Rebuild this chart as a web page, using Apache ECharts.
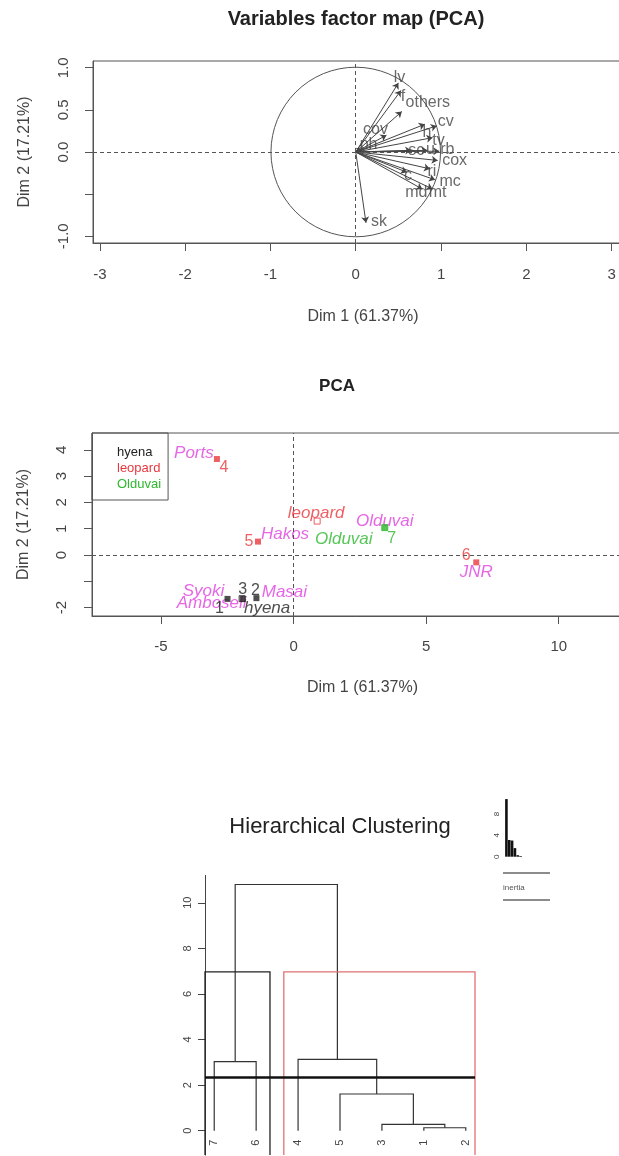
<!DOCTYPE html>
<html>
<head>
<meta charset="utf-8">
<script src="https://cdn.jsdelivr.net/npm/echarts@6/dist/echarts.min.js"></script>
<style>
html,body{margin:0;padding:0;background:#fff}
#main{width:619px;height:1156px}
</style>
</head>
<body>
<div id="main"></div>
<script>
// variables factor map
var varNames = ['lv','f','others','cv','cov','h','tv','ph','sc','u','rb','cox','ri','c','mc','md','mt','sk'];
var varDim1 = [0.50,0.53,0.54,0.95,0.36,0.81,0.90,0.08,0.65,0.84,0.98,0.96,0.87,0.60,0.93,0.78,0.90,0.12];
var varDim2 = [0.82,0.73,0.48,0.31,0.20,0.33,0.17,0.04,0.02,0.02,0.01,-0.10,-0.20,-0.24,-0.33,-0.44,-0.44,-0.84];
var circleRadius = 1;

// individuals
var indNames = ['1','2','3','4','5','6','7'];
var indDim1 = [-2.49,-1.40,-1.92,-2.89,-1.34,6.89,3.44];
var indDim2 = [-1.67,-1.64,-1.67,3.65,0.51,-0.28,1.04];
var indGroup = ['hyena','hyena','hyena','leopard','leopard','leopard','Olduvai'];
var indSite = ['Syoki','Masai','Amboseli','Ports','Hakos','JNR','Olduvai'];
var groupNames = ['hyena','leopard','Olduvai'];
var groupDim1 = [-1.94,0.89,3.44];
var groupDim2 = [-1.66,1.29,1.04];

// clustering
var leafOrder = ['7','6','4','5','3','1','2'];
var mergePairs = [['1','2'],['3',0],['5',1],['7','6'],['4',2],[3,4]];
var mergeHeights = [0.13,0.28,1.61,3.03,3.13,10.8];
var clusters = [['7','6'],['4','5','3','1','2']];
var cutHeight = 2.35;
var inertiaGain = [10.8,3.13,3.03,1.61,0.28,0.13];

var groupColor = {hyena:'#222222', leopard:'#E8383D', Olduvai:'#2DB82D'};
var siteColor = '#E040E0';

// label nudges (px) so the texts sit as in the original plot
var varShift = {lv:[1,-5],f:[2,6],others:[26,-9],cv:[9,-4],cov:[-11,-6],h:[2,8],tv:[6,3],ph:[6,-4],
  sc:[5,0],u:[3,-1],rb:[8,-2],cox:[17,0],ri:[2,3],c:[1,3],mc:[15,2],md:[-6,4],mt:[5,4],sk:[13,-1]};
var indShift = {'1':[-8,10],'2':[-1,-8],'3':[0,-9],'4':[7,9],'5':[-9,0],'6':[-10,-7],'7':[7,11]};
var siteShift = {Ports:[-23,-6],Hakos:[27,-7],Olduvai:[0,-6],JNR:[0,10],Syoki:[-24,-8],Amboseli:[-31,4],Masai:[28,-6]};
var groupShift = {hyena:[25,10],leopard:[-1,-8],Olduvai:[-41,12]};

// dendrogram geometry from the merge list
var nodeX = [], nodeH = [];
function childPos(c){
  if (typeof c === 'string') return [leafOrder.indexOf(c) + 1, 0];
  return [nodeX[c], nodeH[c]];
}
var treeLines = [];
mergePairs.forEach(function(p, i){
  var a = childPos(p[0]), b = childPos(p[1]), h = mergeHeights[i];
  nodeX[i] = (a[0] + b[0]) / 2; nodeH[i] = h;
  treeLines.push({coords:[[a[0],a[1]],[a[0],h],[b[0],h],[b[0],b[1]]]});
});
var dendXMin = 0.78, dendXMax = 7.22, dendYMin = -1.07, dendYMax = 11.2;
var sortedH = mergeHeights.slice().sort(function(a,b){return b-a;});
var boxTop = (sortedH[clusters.length-2] + sortedH[clusters.length-1]) / 2;
var boxColors = ['#222','#E07070'];
var boxLines = [], m = 0;
clusters.forEach(function(cl, i){
  var x0 = Math.max(m + 0.66, dendXMin), x1 = Math.min(m + cl.length + 0.33, dendXMax);
  m += cl.length;
  boxLines.push({coords:[[x0,dendYMin],[x0,boxTop],[x1,boxTop],[x1,dendYMin]], lineStyle:{color:boxColors[i]}});
});

function axisBase(extra){
  var o = {
    type:'value', splitLine:{show:false},
    axisLine:{onZero:false, lineStyle:{color:'#555', width:1}},
    axisTick:{length:8, lineStyle:{color:'#555'}},
    axisLabel:{color:'#444', fontSize:15, fontFamily:'Liberation Sans'},
    nameTextStyle:{color:'#444', fontSize:16, fontFamily:'Liberation Sans'},
    nameLocation:'middle'
  };
  for (var k in extra) {
    if (o[k] && typeof o[k] === 'object' && !Array.isArray(o[k])) Object.assign(o[k], extra[k]);
    else o[k] = extra[k];
  }
  return o;
}

var chart = echarts.init(document.getElementById('main'), null, {renderer:'canvas'});
chart.setOption({
  animation:false,
  backgroundColor:'#fff',
  textStyle:{fontFamily:'Liberation Sans'},
  title:[
    {text:'Variables factor map (PCA)', left:356, top:9, textAlign:'center', padding:0,
     textStyle:{fontSize:20, fontWeight:'bold', color:'#222', fontFamily:'Liberation Sans'}},
    {text:'PCA', left:337, top:378, textAlign:'center', padding:0,
     textStyle:{fontSize:17, fontWeight:'bold', color:'#222', fontFamily:'Liberation Sans'}},
    {text:'Hierarchical Clustering', left:340, top:816, textAlign:'center', padding:0,
     textStyle:{fontSize:22, fontWeight:'normal', color:'#222', fontFamily:'Liberation Sans'}}
  ],
  legend:{
    left:92, top:433, orient:'vertical', icon:'none', itemWidth:0, itemHeight:13, itemGap:3,
    padding:[13,7,9,20], borderColor:'#555', borderWidth:1, selectedMode:false,
    textStyle:{fontSize:13, fontFamily:'Liberation Sans'},
    data: groupNames.map(function(g){ return {name:g, textStyle:{color:groupColor[g]}}; })
  },
  grid:[
    {left:93, top:61, width:540, height:182, show:true, borderColor:'#555', borderWidth:1, outerBoundsMode:'none', containLabel:false},
    {left:92, top:433, width:541, height:183, show:true, borderColor:'#555', borderWidth:1, outerBoundsMode:'none', containLabel:false},
    {left:205, top:875.4, width:270, height:279.7, outerBoundsMode:'none', containLabel:false},
    {left:505, top:799.1, width:17, height:57.6, outerBoundsMode:'none', containLabel:false},
    // leaf label strip: same x range as the tree, bottom edge at height 0
    {left:205, top:875.4, width:270, height:255.3, outerBoundsMode:'none', containLabel:false}
  ],
  xAxis:[
    axisBase({gridIndex:0, min:-3.08, max:3.25,
      axisTick:{customValues:[-3,-2,-1,0,1,2,3]},
      axisLabel:{customValues:[-3,-2,-1,0,1,2,3], margin:24},
      name:'Dim 1 (61.37%)', nameGap:66}),
    axisBase({gridIndex:1, min:-7.6, max:12.8,
      axisTick:{customValues:[-5,0,5,10]},
      axisLabel:{customValues:[-5,0,5,10], margin:23},
      name:'Dim 1 (61.37%)', nameGap:64}),
    {gridIndex:2, type:'value', min:dendXMin, max:dendXMax, show:false},
    {gridIndex:3, type:'category', data:inertiaGain.map(function(v,i){return i+1;}), show:false},
    axisBase({gridIndex:4, min:dendXMin, max:dendXMax,
      axisLine:{show:false}, axisTick:{show:false},
      axisLabel:{customValues:[1,2,3,4,5,6,7], rotate:90, fontSize:11, margin:9,
        formatter:function(v){ return leafOrder[Math.round(v)-1]; }}})
  ],
  yAxis:[
    axisBase({gridIndex:0, min:-1.08, max:1.08,
      axisTick:{customValues:[-1,-0.5,0,0.5,1]},
      axisLabel:{customValues:[-1,0,0.5,1], rotate:90, margin:22,
        formatter:function(v){ return v.toFixed(1); }},
      name:'Dim 2 (17.21%)', nameGap:60}),
    axisBase({gridIndex:1, min:-2.32, max:4.64,
      axisTick:{customValues:[-2,-1,0,1,2,3,4]},
      axisLabel:{customValues:[-2,0,1,2,3,4], rotate:90, margin:23},
      name:'Dim 2 (17.21%)', nameGap:60}),
    axisBase({gridIndex:2, min:dendYMin, max:dendYMax,
      axisLine:{lineStyle:{color:'#444'}},
      axisTick:{customValues:[0,2,4,6,8,10], length:7, lineStyle:{color:'#444'}},
      axisLabel:{customValues:[0,2,4,6,8,10], rotate:90, fontSize:11, margin:12}}),
    axisBase({gridIndex:3, min:0, max:10.8,
      axisLine:{lineStyle:{color:'#222'}},
      axisTick:{customValues:[0,2,4,6,8,10], length:5, lineStyle:{color:'#222'}},
      axisLabel:{customValues:[0,4,8], rotate:90, fontSize:8, margin:4}}),
    {gridIndex:4, type:'value', min:0, max:1, show:false}
  ],
  series:[
    // correlation circle
    {type:'custom', xAxisIndex:0, yAxisIndex:0, silent:true, clip:false, data:[[0,0]],
     renderItem:function(params, api){
       var c = api.coord([0,0]);
       var s = api.size([circleRadius, circleRadius]);
       return {type:'circle', shape:{cx:c[0], cy:c[1], r:(s[0]+s[1])/2},
         style:{fill:'none', stroke:'#555', lineWidth:1}};
     }},
    // variable arrows
    {type:'lines', coordinateSystem:'cartesian2d', xAxisIndex:0, yAxisIndex:0, silent:true,
     symbol:['none','arrow'], symbolSize:6,
     lineStyle:{color:'#444', width:1, opacity:1, curveness:0},
     data: varNames.map(function(n,i){ return {coords:[[0,0],[varDim1[i],varDim2[i]]]}; })},
    // variable labels + dashed zero lines
    {type:'scatter', xAxisIndex:0, yAxisIndex:0, symbolSize:0, silent:true,
     label:{show:true, position:'inside', formatter:'{b}', color:'#444', fontSize:16},
     data: varNames.map(function(n,i){
       return {name:n, value:[varDim1[i],varDim2[i]], label:{offset:varShift[n]}};
     }),
     markLine:{symbol:'none', silent:true, label:{show:false},
       lineStyle:{type:[4,3], color:'#555', width:1},
       data:[{xAxis:0},{yAxis:0}]}},

    // site labels (magenta)
    {type:'scatter', xAxisIndex:1, yAxisIndex:1, symbolSize:0, silent:true, z:2,
     label:{show:true, position:'inside', formatter:'{b}', color:siteColor, fontSize:17, fontStyle:'italic'},
     data: indSite.map(function(s,i){
       return {name:s, value:[indDim1[i],indDim2[i]], label:{offset:siteShift[s]}};
     }),
     markLine:{symbol:'none', silent:true, label:{show:false},
       lineStyle:{type:[4,3], color:'#555', width:1},
       data:[{xAxis:0},{yAxis:0}]}}
  ].concat(groupNames.map(function(g){
    // individuals of each group
    var d = [];
    indNames.forEach(function(n,i){
      if (indGroup[i] === g) d.push({name:n, value:[indDim1[i],indDim2[i]], label:{offset:indShift[n]}});
    });
    return {type:'scatter', name:g, xAxisIndex:1, yAxisIndex:1, symbol:'rect', symbolSize:6, z:4,
      itemStyle:{color:groupColor[g]},
      label:{show:true, position:'inside', formatter:'{b}', color:groupColor[g], fontSize:16},
      data:d};
  })).concat([
    // group centres
    {type:'scatter', xAxisIndex:1, yAxisIndex:1, symbol:'rect', symbolSize:6, z:5, silent:true,
     data: groupNames.map(function(g,i){
       return {name:g, value:[groupDim1[i],groupDim2[i]],
         itemStyle:{color:'transparent', borderColor:groupColor[g], borderWidth:1},
         label:{offset:groupShift[g], color:groupColor[g]}};
     }),
     label:{show:true, position:'inside', formatter:'{b}', fontSize:17, fontStyle:'italic'}},

    // dendrogram
    {type:'lines', coordinateSystem:'cartesian2d', xAxisIndex:2, yAxisIndex:2, polyline:true, silent:true,
     lineStyle:{color:'#333', width:1.2, opacity:1}, data:treeLines,
     markLine:{symbol:'none', silent:true, label:{show:false},
       lineStyle:{type:'solid', color:'#111', width:2.5},
       data:[{yAxis:cutHeight}]}},
    // cluster boxes
    {type:'lines', coordinateSystem:'cartesian2d', xAxisIndex:2, yAxisIndex:2, polyline:true, silent:true,
     lineStyle:{width:1.3, opacity:1}, data:boxLines},
    // inertia gains
    {type:'bar', xAxisIndex:3, yAxisIndex:3, barCategoryGap:'8%', silent:true,
     itemStyle:{color:'#111'}, data:inertiaGain}
  ]),
  graphic:[
    {type:'line', shape:{x1:503, y1:873, x2:550, y2:873}, style:{stroke:'#666', lineWidth:1.5}},
    {type:'text', left:503, top:884, style:{text:'inertia', fontSize:8, fill:'#555', fontFamily:'Liberation Sans'}},
    {type:'line', shape:{x1:503, y1:900, x2:550, y2:900}, style:{stroke:'#666', lineWidth:1.5}}
  ]
});
</script>
</body>
</html>
